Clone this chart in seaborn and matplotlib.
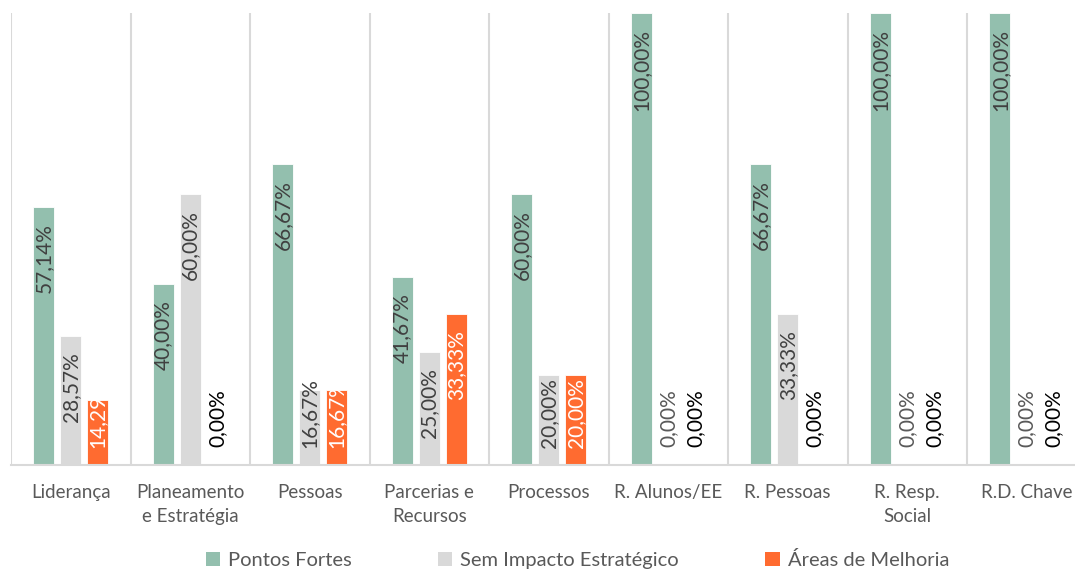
import matplotlib
matplotlib.use("Agg")
import matplotlib.pyplot as plt
import seaborn as sns
import pandas as pd
from matplotlib.patches import Patch

categorias = ["Liderança", "Planeamento\ne Estratégia", "Pessoas", "Parcerias e\nRecursos",
              "Processos", "R. Alunos/EE", "R. Pessoas", "R. Resp.\nSocial", "R.D. Chave"]
series = ["Pontos Fortes", "Sem Impacto Estratégico", "Áreas de Melhoria"]
pontos_fortes = [57.14, 40.00, 66.67, 41.67, 60.00, 100.00, 66.67, 100.00, 100.00]
sem_impacto = [28.57, 60.00, 16.67, 25.00, 20.00, 0.00, 33.33, 0.00, 0.00]
areas_melhoria = [14.29, 0.00, 16.67, 33.33, 20.00, 0.00, 0.00, 0.00, 0.00]

cores = ["#93bfae", "#d9d9d9", "#ff6b30"]
cor_rotulo = ["#404040", "#404040", "#ffffff"]
cor_zero = ["#404040", "#595959", "#000000"]

sns.set_theme(style="white")
plt.rcParams["font.family"] = ["Lato", "DejaVu Sans"]

df = pd.DataFrame({
    "categoria": categorias * 3,
    "serie": [s for s in series for _ in categorias],
    "valor": pontos_fortes + sem_impacto + areas_melhoria,
})
df["frac"] = df["valor"] / 100.0

W, H = 1075, 572
fig = plt.figure(figsize=(W / 100, H / 100), dpi=100)
ax = fig.add_axes([11 / W, 1 - 465 / H, 1075.5 / W, (465 - 13) / H])

sns.barplot(data=df, x="categoria", y="frac", hue="serie", hue_order=series,
            order=categorias, palette=cores, saturation=1, width=0.675, gap=0.21,
            edgecolor="white", linewidth=0.6, errorbar=None, legend=False, ax=ax)

ax.set_xlim(-0.5, len(categorias) - 0.5)
ax.set_ylim(0, 1)
ax.set_xlabel("")
ax.set_ylabel("")
ax.set_yticks([])
ax.set_xticks(range(len(categorias)))
ax.set_xticklabels(categorias, linespacing=1.5, fontsize=13.5, color="#595959")
for s in ["top", "right", "left"]:
    ax.spines[s].set_visible(False)
ax.spines["bottom"].set_color("#d9d9d9")
ax.spines["bottom"].set_linewidth(1.5)
for b in range(len(categorias)):
    ax.axvline(b - 0.5, color="#d9d9d9", lw=1.5, zorder=0)

ax.tick_params(axis="x", length=0, pad=14)

def rotulo(v):
    return f"{v:.2f}".replace(".", ",") + "%"

fig.canvas.draw()
renderer = fig.canvas.get_renderer()
px = 1.0 / ((465 - 13))  # one pixel in axis units

valores = [pontos_fortes, sem_impacto, areas_melhoria]
for i, cont in enumerate(ax.containers):
    for bar, v in zip(cont.patches, valores[i]):
        xc = bar.get_x() + bar.get_width() / 2
        h = bar.get_height()
        if v == 0:
            ax.text(xc, 18 * px, rotulo(v), rotation=90, ha="center", va="bottom",
                    fontsize=15, color=cor_zero[i])
            continue
        t = ax.text(xc, h - 16 * px, rotulo(v), rotation=90, ha="center", va="top",
                    fontsize=15, color=cor_rotulo[i])
        ext = t.get_window_extent(renderer)
        base_px = ax.transData.transform((0, 0))[1]
        if ext.y0 < base_px + 17:
            t.set_y(17 * px)
            t.set_va("bottom")

handles = [Patch(facecolor=c, edgecolor="none") for c in cores]
leg = fig.legend(handles, series, loc="center", bbox_to_anchor=(0.537, 1 - 560 / H),
                 ncol=3, frameon=False, fontsize=14.5, handlelength=0.7, handleheight=0.7,
                 handletextpad=0.4, columnspacing=4.3)
for t in leg.get_texts():
    t.set_color("#595959")

fig.savefig("out.png", dpi=100)
